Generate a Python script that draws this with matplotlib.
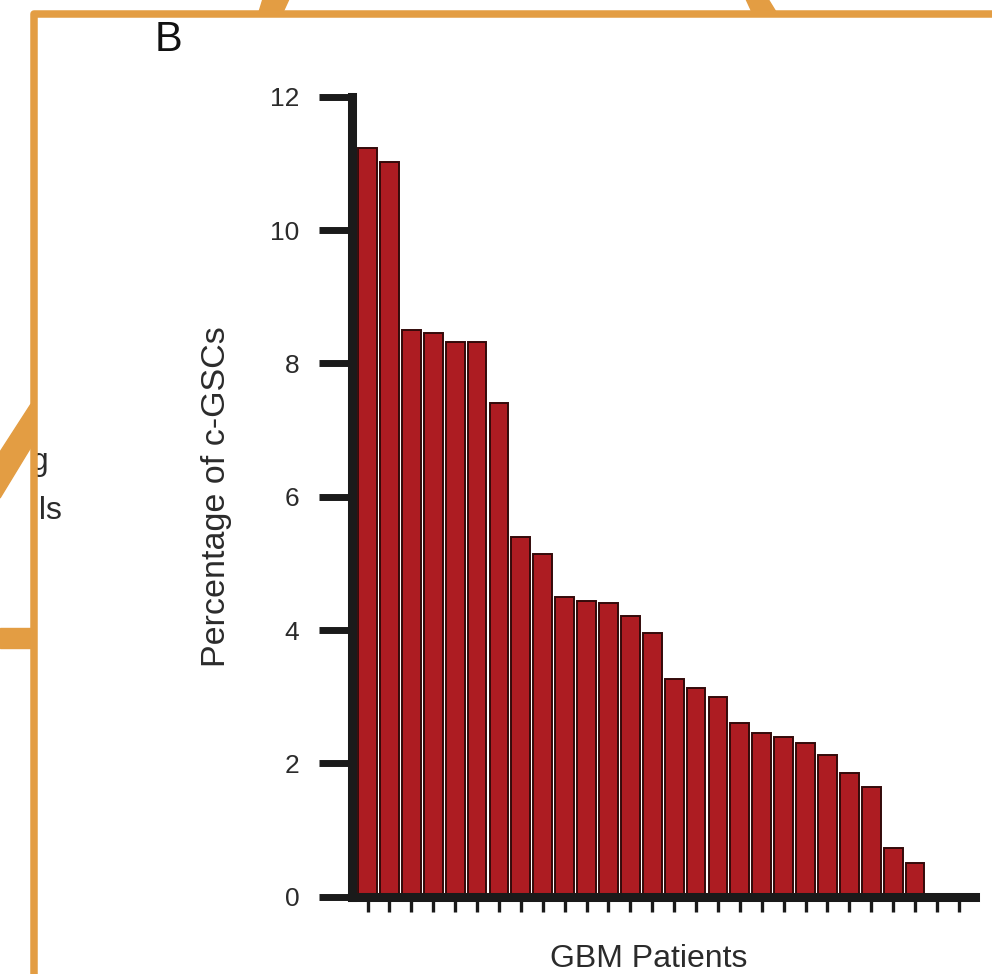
import matplotlib
matplotlib.use("Agg")
import matplotlib.pyplot as plt
import matplotlib.patches as mpatches
import numpy as np

plt.rcParams['font.family'] = ['Liberation Sans', 'DejaVu Sans']

# percentage of c-GSCs per GBM patient (last two patients have none)
pct_cgsc = [11.23, 11.02, 8.50, 8.45, 8.32, 8.32, 7.41, 5.39, 5.14, 4.49,
            4.44, 4.41, 4.21, 3.95, 3.27, 3.13, 3.00, 2.61, 2.45, 2.39,
            2.30, 2.13, 1.86, 1.64, 0.73, 0.51, 0.0, 0.0]
y_ticks = [0, 2, 4, 6, 8, 10, 12]

W, H = 992, 974
BAR = '#ad1c22'
ORANGE = '#e39d43'
TXT = '#2b2b2b'

fig = plt.figure(figsize=(W / 100, H / 100), dpi=100)

# main bar chart, placed in pixel terms
x0, x1, yb, yt = 352, 975, 896.7, 96.7
ax = fig.add_axes([x0 / W, 1 - yb / H, (x1 - x0) / W, (yb - yt) / H])

pos = np.arange(len(pct_cgsc))
ax.bar(pos, pct_cgsc, width=0.86, color=BAR, edgecolor='#330a0a', linewidth=1.4, zorder=2)

ax.set_xlim(-0.71, len(pct_cgsc) - 1 + 0.74)
ax.set_ylim(0, 12)
ax.set_yticks(y_ticks)
ax.set_xticks(pos)
ax.set_xticklabels([])

for s in ['top', 'right']:
    ax.spines[s].set_visible(False)
for s in ['left', 'bottom']:
    ax.spines[s].set_linewidth(6.5)
    ax.spines[s].set_color('#1a1a1a')
    ax.spines[s].set_capstyle('projecting')
    ax.spines[s].set_zorder(3)

ax.tick_params(axis='y', direction='out', length=24, width=5, color='#1a1a1a',
               pad=14, labelsize=19, labelcolor=TXT)
ax.tick_params(axis='x', direction='out', length=11, width=2.4, color='#1a1a1a')

ax.set_ylabel('Percentage of c-GSCs', fontsize=24.5, color=TXT, va='center')
ax.yaxis.set_label_coords((217 - x0) / (x1 - x0), 0.5)
ax.set_xlabel('GBM Patients', fontsize=23, color=TXT, va='baseline')
ax.xaxis.set_label_coords((649 - x0) / (x1 - x0), (yb - 967) / (yb - yt))

# overlay in pixel coordinates for the panel letter and orange frame
ov = fig.add_axes([0, 0, 1, 1], zorder=5)
ov.set_xlim(0, W)
ov.set_ylim(H, 0)
ov.axis('off')
ov.patch.set_alpha(0)

ov.text(168, 40, 'B', fontsize=30, color='#111111', ha='center', va='center')

# clipped text from neighbouring panel, hidden left of the frame
ov.text(49, 470, 'ng', fontsize=23, color=TXT, ha='right', va='baseline', zorder=1)
ov.text(62, 519, 'ells', fontsize=23, color=TXT, ha='right', va='baseline', zorder=1)
ov.add_patch(mpatches.Rectangle((0, 380), 35, 200, color='white', zorder=2))

ov.add_patch(mpatches.Polygon([(0, 452), (31, 404), (31, 447), (0, 498)], color=ORANGE, zorder=3))
ov.add_patch(mpatches.Rectangle((0, 628), 34, 20, color=ORANGE, zorder=3))
ov.add_patch(mpatches.Polygon([(259, 12), (283, 12), (289, -1), (263, -1)], color=ORANGE, zorder=3))
ov.add_patch(mpatches.Polygon([(746, -1), (768, -1), (776, 12), (752, 12)], color=ORANGE, zorder=3))
ov.plot([34, 34, W + 5], [H + 5, 13.7, 13.7], color=ORANGE, lw=5.4,
        solid_joinstyle='round', solid_capstyle='butt', zorder=4)

fig.savefig('out.png', dpi=100)
